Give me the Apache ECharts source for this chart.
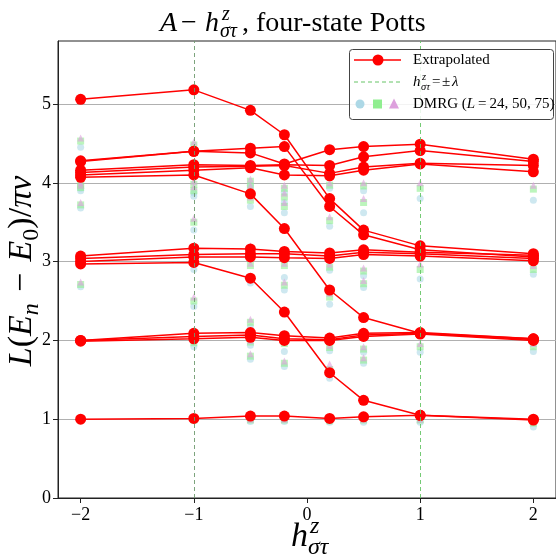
<!DOCTYPE html>
<html>
<head>
<meta charset="utf-8">
<script src="https://cdn.jsdelivr.net/npm/echarts@6/dist/echarts.min.js"></script>
<style>
html,body{margin:0;padding:0;background:#fff;}
#chart{width:556px;height:556px;}
</style>
</head>
<body>
<div id="chart"></div>
<script>
// ---- data ----
const xs = [-2, -1, -0.5, -0.2, 0.2, 0.5, 1, 2];
const xTicks = [-2, -1, 0, 1, 2];
const yTicks = [0, 1, 2, 3, 4, 5];
const lambdaLines = [-1, 1];

// extrapolated levels, one array per level (values at xs)
const lvlA  = [5.06, 5.18, 4.92, 4.61, 3.80, 3.40, 3.20, 3.10];
const lvlB1 = [4.28, 4.40, 4.38, 4.24, 4.42, 4.46, 4.49, 4.30];
const lvlB2 = [4.27, 4.40, 4.44, 4.46, 3.70, 3.34, 3.15, 3.06];
const lvlB3 = [4.16, 4.23, 4.22, 4.23, 4.22, 4.33, 4.41, 4.27];
const lvlB4 = [4.13, 4.20, 4.21, 4.22, 4.12, 4.20, 4.25, 4.22];
const lvlB5 = [4.10, 4.16, 4.19, 4.10, 4.09, 4.16, 4.24, 4.14];
const lvlB6 = [4.07, 4.10, 3.86, 3.42, 2.64, 2.29, 2.09, 2.02];
const lvlC1 = [3.07, 3.17, 3.16, 3.13, 3.11, 3.15, 3.12, 3.08];
const lvlC2 = [3.04, 3.09, 3.10, 3.10, 3.07, 3.12, 3.10, 3.04];
const lvlC3 = [3.00, 3.06, 3.06, 3.05, 3.04, 3.09, 3.07, 3.01];
const lvlC4 = [2.97, 2.99, 2.79, 2.36, 1.59, 1.24, 1.05, 1.00];
const lvlD1 = [2.00, 2.09, 2.10, 2.06, 2.03, 2.09, 2.10, 2.02];
const lvlD2 = [2.00, 2.05, 2.07, 2.02, 2.01, 2.07, 2.09, 2.01];
const lvlD3 = [1.99, 2.02, 2.04, 2.00, 2.00, 2.05, 2.08, 2.00];
const lvlE1 = [1.00, 1.01, 1.04, 1.04, 1.01, 1.03, 1.05, 0.99];
const extrapolated = [lvlA, lvlB1, lvlB2, lvlB3, lvlB4, lvlB5, lvlB6,
  lvlC1, lvlC2, lvlC3, lvlC4, lvlD1, lvlD2, lvlD3, lvlE1];

// DMRG finite-size levels, per x in xs
const dmrgL24 = [
  [4.45, 3.93, 3.90, 3.68, 3.00, 2.68, 1.97, 0.98],
  [4.38, 3.87, 3.83, 3.40, 2.90, 2.43, 1.92, 0.98],
  [3.97, 3.88, 3.70, 3.10, 2.73, 2.17, 1.76, 1.94, 0.97],
  [3.88, 3.75, 3.62, 2.80, 2.64, 1.86, 1.67, 0.97],
  [3.93, 3.45, 2.89, 2.46, 1.87, 1.52, 0.96],
  [3.90, 3.62, 2.82, 2.67, 1.85, 1.71, 0.96],
  [3.80, 2.78, 1.85, 0.96],
  [3.78, 2.84, 1.86, 0.90]
];
const dmrgL50 = [
  [4.53, 3.97, 3.94, 3.72, 3.03, 2.71, 1.99, 0.99],
  [4.48, 3.98, 3.90, 3.50, 3.00, 2.50, 1.97, 0.99],
  [4.02, 3.93, 3.78, 3.15, 2.95, 2.23, 1.80, 1.98, 0.99],
  [3.93, 3.82, 3.70, 2.95, 2.70, 1.96, 1.71, 0.99],
  [3.97, 3.52, 2.93, 2.55, 1.91, 1.63, 0.98],
  [3.96, 3.75, 2.88, 2.72, 1.89, 1.75, 0.99],
  [3.93, 2.90, 1.92, 0.99],
  [3.92, 2.90, 1.92, 0.95]
];
const dmrgL75 = [
  [4.57, 4.00, 3.97, 3.75, 3.05, 2.74, 2.00, 1.00],
  [4.52, 4.02, 3.95, 3.55, 3.10, 2.55, 2.00, 1.00],
  [4.05, 3.97, 3.82, 3.20, 2.98, 2.27, 1.83, 2.00, 1.00],
  [3.97, 3.87, 3.75, 2.98, 2.74, 2.00, 1.74, 1.00],
  [4.00, 3.57, 2.97, 2.60, 1.94, 1.70, 1.00],
  [4.00, 3.80, 2.92, 2.76, 1.92, 1.78, 1.00],
  [4.00, 2.97, 1.96, 1.00],
  [3.97, 2.95, 1.96, 0.97]
];

// ---- chart ----
const SERIF = '"Liberation Serif","Times New Roman",serif';
const chart = echarts.init(document.getElementById('chart'), null, {renderer: 'canvas'});

const series = [];
const dmrgSets = [
  {vals: dmrgL24, symbol: 'circle', color: '#add8e6'},
  {vals: dmrgL50, symbol: 'rect', color: '#90ee90'},
  {vals: dmrgL75, symbol: 'triangle', color: '#dda0dd'}
];
dmrgSets.forEach((s, k) => {
  const data = [];
  xs.forEach((x, i) => s.vals[i].forEach(v => data.push([x, v])));
  const ser = {
    type: 'scatter', data, symbol: s.symbol, symbolSize: 7,
    itemStyle: {color: s.color, opacity: 0.6}, z: 1, silent: true, animation: false
  };
  if (k === 0) {
    ser.markLine = {
      symbol: 'none', silent: true, animation: false, label: {show: false},
      data: lambdaLines.map((v, j) => ({
        xAxis: v,
        lineStyle: {color: j === 0 ? '#6f9a6f' : '#66c466', type: [4, 3], width: 1, opacity: 0.9}
      }))
    };
  }
  series.push(ser);
});
extrapolated.forEach(arr => {
  series.push({
    type: 'line', data: xs.map((x, i) => [x, arr[i]]),
    symbol: 'circle', symbolSize: 11, showSymbol: true,
    lineStyle: {color: '#ff0000', width: 1.5},
    itemStyle: {color: '#ff0000'}, z: 3, animation: false, silent: true
  });
});

function txt(x, y, text, size, italic, extra) {
  return Object.assign({
    type: 'text', x, y, z: 100,
    style: {text, fontFamily: SERIF, fontSize: size, fontStyle: italic ? 'italic' : 'normal',
      fill: '#000', align: 'left', verticalAlign: 'middle'}
  }, extra || {});
}

const graphic = [
  // title
  txt(160, 24, 'A', 28, true),
  txt(181, 24, '−', 28, false),
  txt(205, 24, 'h', 28, true),
  txt(222, 15, 'z', 20, true),
  txt(220, 32, 'στ', 20, true),
  txt(242, 24, ', four-state Potts', 28, false),
  // x label
  txt(291, 537, 'h', 34, true),
  txt(310, 527, 'z', 24, true),
  txt(308, 548, 'στ', 24, true),
  // y label (rotated)
  {
    type: 'text', x: 22, y: 271, rotation: Math.PI / 2, z: 100,
    style: {
      text: '{i|L}{r|(}{i|E}{s|n}{r|\u2004−\u2004}{i|E}{t|0}{r|)/}{i|πv}',
      align: 'center', verticalAlign: 'middle', fill: '#000',
      rich: {
        i: {fontFamily: SERIF, fontSize: 34, fontStyle: 'italic', lineHeight: 44, verticalAlign: 'middle'},
        r: {fontFamily: SERIF, fontSize: 34, lineHeight: 44, verticalAlign: 'middle'},
        s: {fontFamily: SERIF, fontSize: 24, fontStyle: 'italic', lineHeight: 44, verticalAlign: 'bottom'},
        t: {fontFamily: SERIF, fontSize: 24, lineHeight: 44, verticalAlign: 'bottom'}
      }
    }
  },
  // legend box
  {type: 'rect', z: 90, shape: {x: 349.5, y: 49.5, width: 204, height: 70, r: 3},
    style: {fill: 'rgba(255,255,255,0.85)', stroke: '#444', lineWidth: 1}},
  {type: 'line', z: 95, shape: {x1: 354, y1: 60, x2: 401, y2: 60}, style: {stroke: '#ff0000', lineWidth: 1.5}},
  {type: 'circle', z: 96, shape: {cx: 378, cy: 60, r: 5.5}, style: {fill: '#ff0000'}},
  txt(413, 60, 'Extrapolated', 15, false),
  {type: 'line', z: 95, shape: {x1: 354, y1: 82, x2: 401, y2: 82}, style: {stroke: '#66c466', lineWidth: 1, lineDash: [4, 3]}},
  txt(413, 82, 'h', 15, true),
  txt(422, 77, 'z', 10.5, true),
  txt(421, 87, 'στ', 10.5, true),
  txt(432, 82, '=', 15, false),
  txt(442, 82, '±', 15, false),
  txt(452, 82, 'λ', 15, true),
  {type: 'circle', z: 96, shape: {cx: 360, cy: 104, r: 4.5}, style: {fill: '#add8e6'}},
  {type: 'rect', z: 96, shape: {x: 373, y: 99.5, width: 9, height: 9}, style: {fill: '#90ee90'}},
  {type: 'polygon', z: 96, shape: {points: [[394, 98.5], [399, 108.5], [389, 108.5]]}, style: {fill: '#dda0dd'}},
  {
    type: 'text', x: 413, y: 104, z: 100,
    style: {
      text: '{r|DMRG (}{i|L}{r|\u2009=\u200924, 50, 75)}', align: 'left', verticalAlign: 'middle', fill: '#000',
      rich: {
        r: {fontFamily: SERIF, fontSize: 15},
        i: {fontFamily: SERIF, fontSize: 15, fontStyle: 'italic'}
      }
    }
  }
];

chart.setOption({
  animation: false,
  backgroundColor: '#fff',
  grid: {left: 58, right: -8, top: 41, bottom: 58, show: true, borderColor: '#222', borderWidth: 1},
  xAxis: {
    type: 'value', min: -2.2, max: 2.2,
    axisLine: {show: true, onZero: false, lineStyle: {color: '#222', width: 1}},
    axisTick: {show: true, length: 5, customValues: xTicks, lineStyle: {color: '#222'}},
    axisLabel: {customValues: xTicks, fontFamily: SERIF, fontSize: 18, color: '#000', margin: 8,
      formatter: v => String(v).replace('-', '−')},
    splitLine: {show: false}
  },
  yAxis: {
    type: 'value', min: 0, max: 5.8,
    axisLine: {show: true, onZero: false, lineStyle: {color: '#222', width: 1}},
    axisTick: {show: true, length: 5, customValues: yTicks, lineStyle: {color: '#222'}},
    axisLabel: {customValues: yTicks, fontFamily: SERIF, fontSize: 18, color: '#000', margin: 7},
    splitLine: {show: true, lineStyle: {color: '#b0b0b0', width: 1}}
  },
  graphic,
  series
});
</script>
</body>
</html>
